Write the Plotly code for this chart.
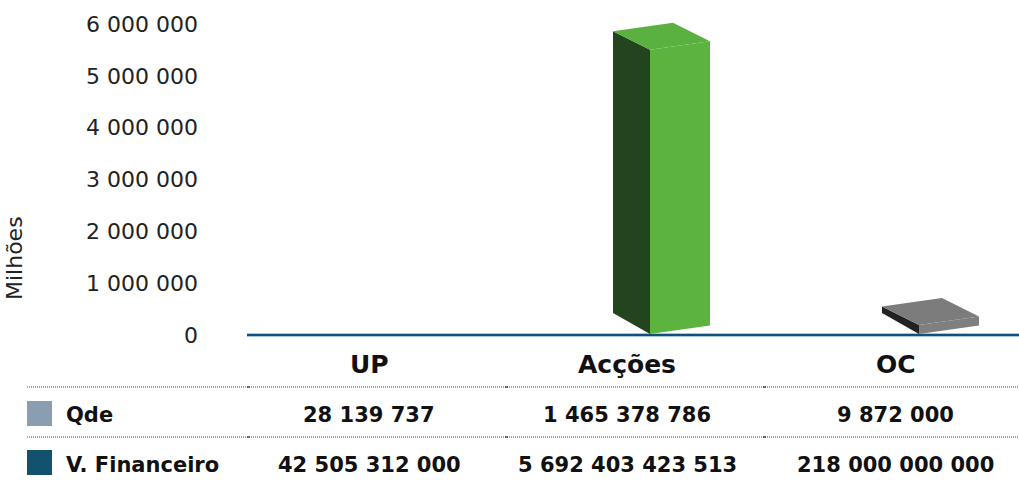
import plotly.graph_objects as go

categories = ["UP", "Acções", "OC"]
row_names = ["Qde", "V. Financeiro"]
qde_labels = ["28 139 737", "1 465 378 786", "9 872 000"]
fin_labels = ["42 505 312 000", "5 692 403 423 513", "218 000 000 000"]
fin_millions = [42505, 5692403, 218000]
y_ticks = [0, 1000000, 2000000, 3000000, 4000000, 5000000, 6000000]
y_tick_labels = ["0", "1 000 000", "2 000 000", "3 000 000", "4 000 000", "5 000 000", "6 000 000"]

W, H = 1019, 481
L, B = 247, 146
Y_MAX = 6250000
PX_Y = (H - 24 - B) / 6000000
T = 24 - (Y_MAX - 6000000) * PX_Y
FONT = "DejaVu Sans"
PX_X = (W - L) / 3
TXT = "#111111"


def px(x):
    return (x - L) / (W - L)


def py(y):
    return 1 - (y - T) / (H - T - B)


fig = go.Figure()

face_sets = [None,
             ("#22451d", "#5cb33f", "#5ab140", 650, 0.963),
             ("#222222", "#7f7f7f", "#7c7c7c", 919, 0.80)]
for i, v in enumerate(fin_millions):
    if face_sets[i] is None:
        continue
    dark, front, top, cx, k = face_sets[i]
    c = (cx - L) / PX_X
    dl = 37 / PX_X
    dr = 60 / PX_X
    base = 1 / PX_Y
    h = v * k + base
    up_l = 21 / PX_Y
    up_lt = 18.5 / PX_Y
    up_r = 8.5 / PX_Y
    fig.add_trace(go.Scatter(x=[c - dl, c, c, c - dl, c - dl],
                             y=[up_l + base, base, h, h + up_lt, up_l + base],
                             fill="toself", fillcolor=dark, mode="none", hoverinfo="skip"))
    fig.add_trace(go.Scatter(x=[c, c + dr, c + dr, c, c],
                             y=[base, base + up_r, h + up_r, h, base],
                             fill="toself", fillcolor=front, mode="none", hoverinfo="skip"))
    fig.add_trace(go.Scatter(x=[c, c - dl, c - dl + dr, c + dr, c],
                             y=[h, h + up_lt, h + up_lt + up_r, h + up_r, h],
                             fill="toself", fillcolor=top, mode="none", hoverinfo="skip"))

anns = []
cat_x = [369, 627, 896]
for name, x in zip(categories, cat_x):
    anns.append(dict(x=px(x), y=py(364), text=f"<b>{name}</b>", font=dict(size=25, color=TXT)))
col_x = [369, 627, 895]
for lab, x in zip(qde_labels, col_x):
    anns.append(dict(x=px(x), y=py(415), text=f"<b>{lab}</b>", font=dict(size=21, color=TXT)))
for lab, x in zip(fin_labels, col_x):
    anns.append(dict(x=px(x), y=py(465), text=f"<b>{lab}</b>", font=dict(size=21, color=TXT)))
for name, y in zip(row_names, [415, 465]):
    anns.append(dict(x=px(64), y=py(y), text=f"<b>{name}</b>", xanchor="left", font=dict(size=21, color=TXT)))
anns.append(dict(x=px(15), y=py(258), text="Milhões", textangle=-90, font=dict(size=22, color="#222222")))
for a in anns:
    a.update(xref="paper", yref="paper", showarrow=False)
    a.setdefault("xanchor", "center")
    a.setdefault("yanchor", "middle")

shapes = []
for y in [387, 437]:
    shapes.append(dict(type="line", xref="paper", yref="paper", x0=px(27), x1=1, y0=py(y), y1=py(y),
                       line=dict(color="#1f5673", width=1, dash="1px,1px")))
    for x in [247, 505, 763]:
        shapes.append(dict(type="line", xref="paper", yref="paper", x0=px(x), x1=px(x + 3), y0=py(y), y1=py(y),
                           line=dict(color="#14527a", width=1.5)))
shapes.append(dict(type="rect", xref="paper", yref="paper", x0=px(27), x1=px(52), y0=py(426), y1=py(401),
                   fillcolor="#8a9db1", line=dict(width=0)))
shapes.append(dict(type="rect", xref="paper", yref="paper", x0=px(27), x1=px(52), y0=py(475), y1=py(450),
                   fillcolor="#12526c", line=dict(width=0)))
shapes.append(dict(type="line", xref="paper", yref="paper", x0=0, x1=1, y0=py(335), y1=py(335),
                   line=dict(color="#8fb0c8", width=3.5), layer="below"))
shapes.append(dict(type="line", xref="paper", yref="paper", x0=0, x1=1, y0=py(335), y1=py(335),
                   line=dict(color="#114f7d", width=2), layer="below"))

fig.update_layout(
    width=W, height=H, autosize=False, showlegend=False,
    margin=dict(l=L, r=0, t=T, b=B),
    paper_bgcolor="white", plot_bgcolor="white",
    annotations=anns, shapes=shapes,
    xaxis=dict(range=[0, 3], showticklabels=False, ticks="", showgrid=False, zeroline=False,
               showline=False, fixedrange=True),
    yaxis=dict(range=[0, Y_MAX], tickvals=y_ticks, ticktext=y_tick_labels, showgrid=False,
               zeroline=False, showline=False, ticks="", ticklen=0, ticklabelstandoff=48,
               tickfont=dict(family=FONT, size=22, color="#222222"), fixedrange=True),
    font=dict(family=FONT),
)
for tr in fig.data:
    tr.cliponaxis = False

fig.write_html("out.html", include_plotlyjs=True, config={"displayModeBar": False},
               post_script="document.body.style.margin='0';document.body.style.overflow='hidden';")
